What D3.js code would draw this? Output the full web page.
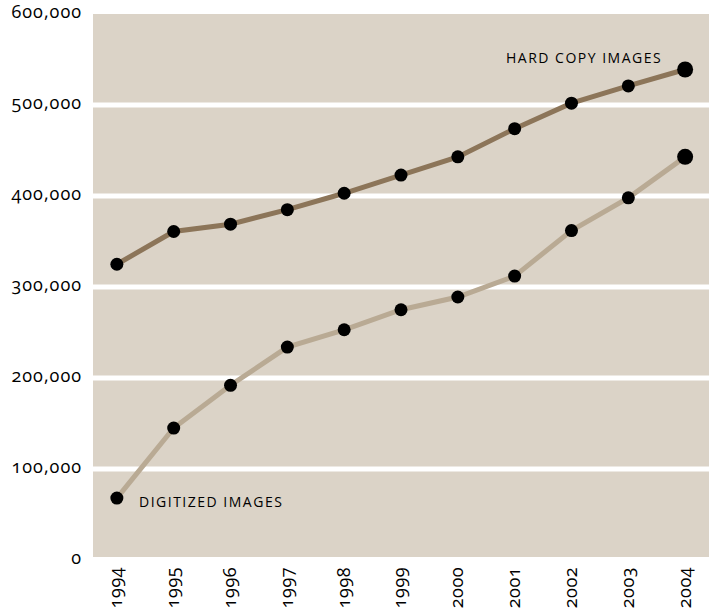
<!DOCTYPE html>
<html><head><meta charset="utf-8">
<script src="https://cdn.jsdelivr.net/npm/d3@7"></script>
<style>
body{margin:0;background:#fff;}
text{font-family:"Open Sans",Lato,sans-serif;fill:#000;font-variant-numeric:oldstyle-nums;font-feature-settings:'onum' 1;}
</style></head><body>
<svg id="c" width="709" height="612"></svg>
<script>
const years = ["1994","1995","1996","1997","1998","1999","2000","2001","2002","2003","2004"];
const hardCopy = [325000,361000,369000,385000,403000,423000,443000,474000,502000,521000,539000];
const digitized = [68000,145000,192000,234000,253000,275000,289000,312000,362000,398000,443000];
const yTicks = [0,100000,200000,300000,400000,500000,600000];
const seriesNames = ["HARD COPY IMAGES","DIGITIZED IMAGES"];

const svg = d3.select("#c");
const pL = 93, pR = 709, pT = 14, pB = 557;
const x = d3.scalePoint().domain(years).range([pL, pR]).padding(0.42);
const y = d3.scaleLinear().domain([0,600000]).range([560, 14]);

svg.append("rect").attr("x",pL).attr("y",pT).attr("width",pR-pL).attr("height",pB-pT).attr("fill","#dbd3c7");
svg.selectAll("line.grid").data(yTicks.filter(d=>d>0 && d<600000)).enter().append("line")
  .attr("x1",pL).attr("x2",pR).attr("y1",d=>y(d)).attr("y2",d=>y(d))
  .attr("stroke","#fff").attr("stroke-width",5);

const fmt = d3.format(",");
svg.selectAll("text.yl").data(yTicks).enter().append("text")
  .attr("x",82).attr("y",d=>y(d)).attr("dy","0.2em").attr("text-anchor","end")
  .attr("font-size",18).attr("letter-spacing","1").text(d=>fmt(d));

svg.selectAll("text.xl").data(years).enter().append("text")
  .attr("transform",d=>`translate(${x(d)},567) rotate(-90)`)
  .attr("dy","0.3em").attr("text-anchor","end").attr("font-size",18).attr("letter-spacing","0.5").text(d=>d);

const line = d3.line().x((d,i)=>x(years[i])).y(d=>y(d));
const series = [{v:hardCopy,c:"#8c7559"},{v:digitized,c:"#b9aa94"}];
series.forEach(s=>{
  svg.append("path").attr("d",line(s.v)).attr("fill","none").attr("stroke",s.c).attr("stroke-width",5);
});
series.forEach(s=>{
  svg.selectAll(null).data(s.v).enter().append("circle")
    .attr("cx",(d,i)=>x(years[i])).attr("cy",d=>y(d)).attr("r",(d,i)=>i===years.length-1?8:6.5).attr("fill","#000");
});

svg.append("text").attr("x",506).attr("y",63).attr("font-size",14).attr("letter-spacing","1.5").text(seriesNames[0]);
svg.append("text").attr("x",139).attr("y",507).attr("font-size",14).attr("letter-spacing","1.5").text(seriesNames[1]);
</script></body></html>
